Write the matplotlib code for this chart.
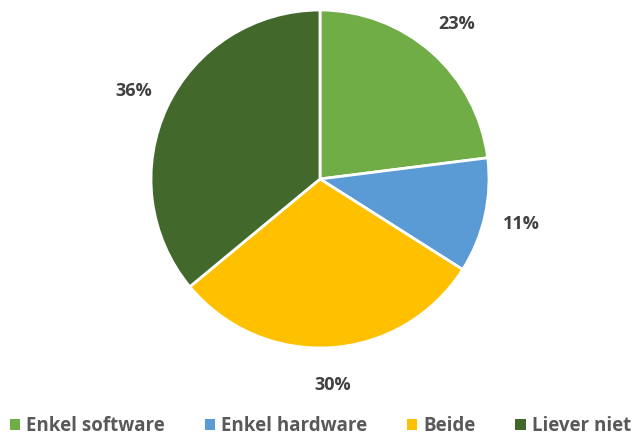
import matplotlib.pyplot as plt

labels = ['Enkel software', 'Enkel hardware', 'Beide', 'Liever niet']
values = [23, 11, 30, 36]
colors = ['#70AD47', '#5B9BD5', '#FFC000', '#43682B']

plt.rcParams['font.family'] = ['Open Sans', 'DejaVu Sans']

fig = plt.figure(figsize=(6.41, 4.38), dpi=100)
ax = fig.add_axes([151/641, 1 - 348/438, 338/641, 338/438])

wedges, texts, autotexts = ax.pie(values, colors=colors, startangle=90, counterclock=False,
                                  autopct='%1.0f%%', pctdistance=1.22,
                                  wedgeprops=dict(edgecolor='white', linewidth=2))
for t in autotexts:
    t.set_fontsize(13)
    t.set_fontweight('bold')
    t.set_color('#404040')
ax.set_xlim(-1, 1)
ax.set_ylim(-1, 1)
ax.set_aspect('equal')

leg = fig.legend(wedges, labels, loc='lower center', bbox_to_anchor=(0.5, -0.035), ncol=4,
                 frameon=False, handlelength=0.55, handleheight=0.55, handletextpad=0.35,
                 columnspacing=2.1, prop=dict(size=13.5, weight='bold'))
for t in leg.get_texts():
    t.set_color('#595959')
for h in leg.legend_handles:
    h.set_edgecolor('none')

fig.savefig('out.png', dpi=100)
